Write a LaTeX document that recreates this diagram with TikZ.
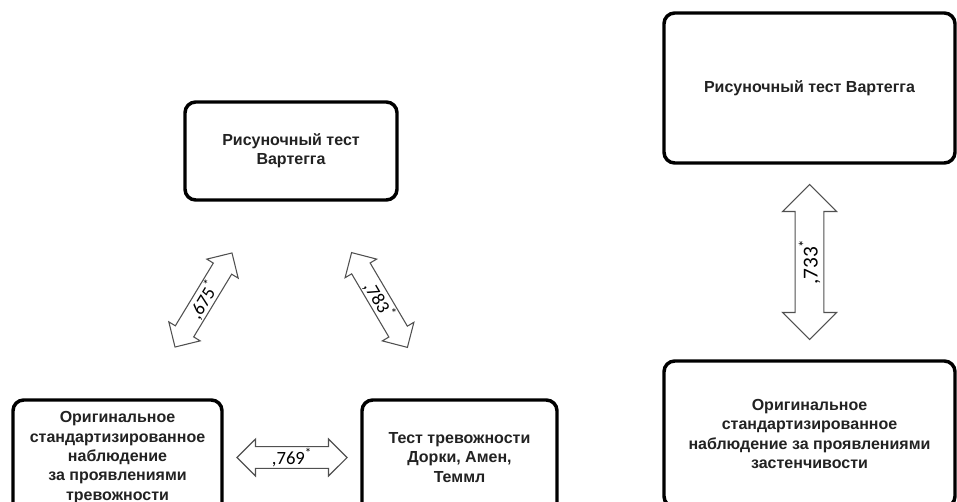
\documentclass[tikz,border=0pt]{standalone}
\usepackage{fontspec}
\setmainfont{Liberation Sans}
\newfontfamily\numfont{Carlito}
\usetikzlibrary{shapes.arrows, positioning, calc}
\definecolor{BoxText}{RGB}{34,34,34}
\definecolor{ArrowGray}{RGB}{80,80,80}

\begin{document}
\begin{tikzpicture}[x=0.75pt, y=-0.75pt,
  box/.style={draw=black, line width=2.6pt, rounded corners=8pt, align=center,
              font=\fontsize{12}{14.5}\selectfont\bfseries, text=BoxText, inner sep=0pt},
  link/.style={draw=ArrowGray, line width=0.8pt, double arrow, double arrow tip angle=90,
               inner sep=0pt, font=\numfont\fontsize{14}{14}\selectfont},
]
\clip (0,0) rectangle (957,502);

\node[box, minimum width=159pt, minimum height=73.5pt] (wart) at (291,151) {Рисуночный тест\\Вартегга};
\node[box, minimum width=156.75pt, minimum height=86.25pt] (orig) at (117.5,457.5)
  {Оригинальное\\стандартизированное\\наблюдение\\за проявлениями\\тревожности};
\node[box, minimum width=146.25pt, minimum height=86.25pt] (test) at (459.5,457.5)
  {Тест тревожности\\Дорки, Амен,\\Теммл};
\node[box, minimum width=218.25pt, minimum height=112.5pt] (wartR) at (809.5,88) {Рисуночный тест Вартегга};
\node[box, minimum width=218.25pt, minimum height=109.5pt] (shy) at (809.5,434)
  {Оригинальное\\стандартизированное\\наблюдение за проявлениями\\застенчивости};

\node[link, rotate=58.8, minimum height=82.5pt, minimum width=27.5pt, double arrow head extend=5.25pt]
  (l1) at ($(wart.south west)!0.5!(orig.north east)$) {,675\textsuperscript{*}};
\node[link, rotate=-59.5, minimum height=82.5pt, minimum width=27.5pt, double arrow head extend=5.25pt]
  (l2) at ($(wart.south east)!0.5!(test.north west)$) {,783\textsuperscript{*}};
\node[link, minimum height=82.5pt, minimum width=27.75pt, double arrow head extend=5.25pt]
  (l3) at ($(orig.east)!0.5!(test.west)$) {,769\textsuperscript{*}};
\node[link, rotate=90, minimum height=116.25pt, minimum width=40.5pt, double arrow head extend=7.5pt,
      font=\numfont\fontsize{16}{16}\selectfont]
  (l4) at ($(wartR.south)!0.5!(shy.north)$) {,733\textsuperscript{*}};
\end{tikzpicture}
\end{document}
